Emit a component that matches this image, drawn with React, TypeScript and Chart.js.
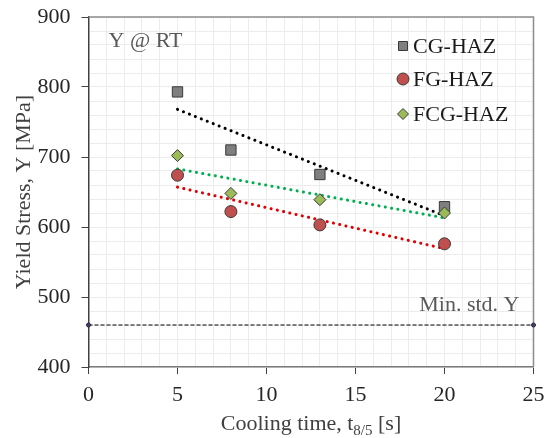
import React, { useEffect, useRef } from 'react';
import { Chart, registerables } from 'chart.js';
Chart.register(...registerables);

// ---- data ----
const coolingTimes = [5, 8, 13, 20];
const cgHaz = [793, 710, 675, 629];
const fgHaz = [674, 622, 603, 576];
const fcgHaz = [702, 648, 639, 620];
const trendX = [5, 20];
const cgTrend = [768, 616];
const fgTrend = [657, 569];
const fcgTrend = [683, 613];
const minStdX = [0, 25];
const minStdY = 460;
const seriesNames = ['CG-HAZ', 'FG-HAZ', 'FCG-HAZ'];
const xTitleMain = 'Cooling time, t';
const xTitleSub = '8/5';
const xTitleEnd = ' [s]';
const yTitle = 'Yield Stress, Y [MPa]';
const topLabel = 'Y @ RT';
const minLabel = 'Min. std. Y';

const FONT = '"Liberation Serif", "Times New Roman", serif';
const CG_FILL = '#7f7f7f';
const FG_FILL = '#c0504d';
const FCG_FILL = '#9bbb59';
const MARK_BORDER = '#3a3a3a';

const pts = (xs: number[], ys: number[]) => xs.map((x, i) => ({ x, y: ys[i] }));

const overlay = {
  id: 'overlay',
  beforeDatasetsDraw(chart: any) {
    const { ctx, chartArea: a } = chart;
    ctx.save();
    ctx.strokeStyle = '#8c8c8c';
    ctx.lineWidth = 1.5;
    ctx.beginPath();
    ctx.moveTo(a.left, a.top);
    ctx.lineTo(a.right, a.top);
    ctx.lineTo(a.right, a.bottom);
    ctx.stroke();
    ctx.restore();
  },
  afterDraw(chart: any) {
    const { ctx, chartArea: a } = chart;
    ctx.save();
    // Y @ RT
    ctx.font = `22px ${FONT}`;
    ctx.fillStyle = '#595959';
    ctx.textBaseline = 'alphabetic';
    ctx.textAlign = 'left';
    ctx.fillText(topLabel, a.left + 20, 47);
    // Min std label
    ctx.textAlign = 'right';
    ctx.fillText(minLabel, a.right - 14, chart.scales.y.getPixelForValue(minStdY) - 14);

    // legend
    const lx = 403;
    const rows = [46, 79, 114];
    ctx.lineWidth = 1;
    ctx.strokeStyle = MARK_BORDER;
    // square
    ctx.fillStyle = CG_FILL;
    ctx.beginPath();
    ctx.rect(lx - 4.5, rows[0] - 4.5, 9, 9);
    ctx.fill();
    ctx.stroke();
    // circle
    ctx.fillStyle = FG_FILL;
    ctx.beginPath();
    ctx.arc(lx, rows[1], 6, 0, Math.PI * 2);
    ctx.fill();
    ctx.stroke();
    // diamond
    ctx.fillStyle = FCG_FILL;
    ctx.beginPath();
    ctx.moveTo(lx, rows[2] - 5.5);
    ctx.lineTo(lx + 5.5, rows[2]);
    ctx.lineTo(lx, rows[2] + 5.5);
    ctx.lineTo(lx - 5.5, rows[2]);
    ctx.closePath();
    ctx.fill();
    ctx.stroke();
    ctx.fillStyle = '#1a1a1a';
    ctx.textAlign = 'left';
    ctx.font = `22px ${FONT}`;
    seriesNames.forEach((n, i) => ctx.fillText(n, lx + 10, rows[i] + 7));

    // x title with subscript
    const main = `22px ${FONT}`;
    const sub = `15px ${FONT}`;
    ctx.font = main;
    const w1 = ctx.measureText(xTitleMain).width;
    const w3 = ctx.measureText(xTitleEnd).width;
    ctx.font = sub;
    const w2 = ctx.measureText(xTitleSub).width;
    const total = w1 + w2 + w3;
    const cx = (a.left + a.right) / 2;
    let x0 = cx - total / 2;
    const base = 430;
    ctx.fillStyle = '#404040';
    ctx.font = main;
    ctx.fillText(xTitleMain, x0, base);
    x0 += w1;
    ctx.font = sub;
    ctx.fillText(xTitleSub, x0, base + 5);
    x0 += w2;
    ctx.font = main;
    ctx.fillText(xTitleEnd, x0, base);
    ctx.restore();
  },
};

export default function App() {
  const ref = useRef<HTMLCanvasElement>(null);
  useEffect(() => {
    const markerBase = {
      type: 'scatter' as const,
      showLine: false,
      borderColor: MARK_BORDER,
      borderWidth: 1,
    };
    const trendBase = {
      type: 'line' as const,
      pointRadius: 0,
      borderWidth: 3,
      borderDash: [0.1, 6.3],
      borderCapStyle: 'round' as const,
      fill: false,
    };
    const chart = new Chart(ref.current!, {
      type: 'scatter',
      data: {
        datasets: [
          { ...markerBase, label: seriesNames[2], data: pts(coolingTimes, fcgHaz), backgroundColor: FCG_FILL, pointStyle: 'rectRot', pointRadius: 6, order: 0 },
          { ...markerBase, label: seriesNames[1], data: pts(coolingTimes, fgHaz), backgroundColor: FG_FILL, pointStyle: 'circle', pointRadius: 6, order: 1 },
          { ...markerBase, label: seriesNames[0], data: pts(coolingTimes, cgHaz), backgroundColor: CG_FILL, pointStyle: 'rect', pointRadius: 7.3, order: 2 },
          { ...trendBase, label: 'cgT', data: pts(trendX, cgTrend), borderColor: '#000000', order: 3 },
          { ...trendBase, label: 'fcgT', data: pts(trendX, fcgTrend), borderColor: '#00b050', order: 4 },
          { ...trendBase, label: 'fgT', data: pts(trendX, fgTrend), borderColor: '#e00000', order: 5 },
          {
            type: 'line', label: 'min', data: pts(minStdX, [minStdY, minStdY]),
            borderColor: '#000000', borderWidth: 1, borderDash: [4, 2],
            pointRadius: 2, pointBackgroundColor: '#4a3f6b', pointBorderColor: '#2a2040', pointBorderWidth: 1,
            clip: false as any, order: 6,
          },
        ] as any,
      },
      options: {
        animation: false,
        responsive: false,
        devicePixelRatio: 1,
        layout: { padding: { left: 0, right: 16.5, top: 17, bottom: 0 } },
        plugins: { legend: { display: false }, tooltip: { enabled: false } },
        scales: {
          x: {
            type: 'linear',
            min: 0,
            max: 25,
            afterFit: (s: any) => { s.height = 71; s.paddingLeft = 0; s.paddingRight = 0; },
            ticks: {
              stepSize: 1,
              autoSkip: false,
              maxRotation: 0,
              padding: 8,
              color: '#262626',
              font: { family: FONT, size: 22 },
              callback: (v: any) => (Number(v) % 5 === 0 ? String(v) : ''),
            },
            grid: {
              color: '#ececec',
              lineWidth: 1,
              tickLength: 7,
              tickColor: (c: any) => (c.tick && c.tick.value % 5 === 0 ? '#404040' : 'rgba(0,0,0,0)'),
            },
            border: { color: '#7a7a7a', width: 1.5 },
          },
          y: {
            type: 'linear',
            min: 400,
            max: 900,
            afterFit: (s: any) => { s.width = 88.5; s.paddingTop = 0; s.paddingBottom = 0; },
            ticks: {
              stepSize: 20,
              autoSkip: false,
              padding: 11,
              color: '#262626',
              font: { family: FONT, size: 22 },
              callback: (v: any) => (Number(v) % 100 === 0 ? String(v) : ''),
            },
            grid: {
              color: '#ececec',
              lineWidth: 1,
              tickLength: 7,
              tickColor: (c: any) => (c.tick && c.tick.value % 100 === 0 ? '#404040' : 'rgba(0,0,0,0)'),
            },
            border: { color: '#404040', width: 1.5 },
            title: {
              display: true,
              text: yTitle,
              color: '#404040',
              font: { family: FONT, size: 22 },
              padding: { top: 11, bottom: 0 },
            },
          },
        },
      },
      plugins: [overlay],
    } as any);
    return () => chart.destroy();
  }, []);
  return (
    <div style={{ position: 'fixed', left: 0, top: 0, width: 550, height: 438, background: '#fff' }}>
      <canvas ref={ref} width={550} height={438} style={{ width: 550, height: 438, display: 'block' }} />
    </div>
  );
}
